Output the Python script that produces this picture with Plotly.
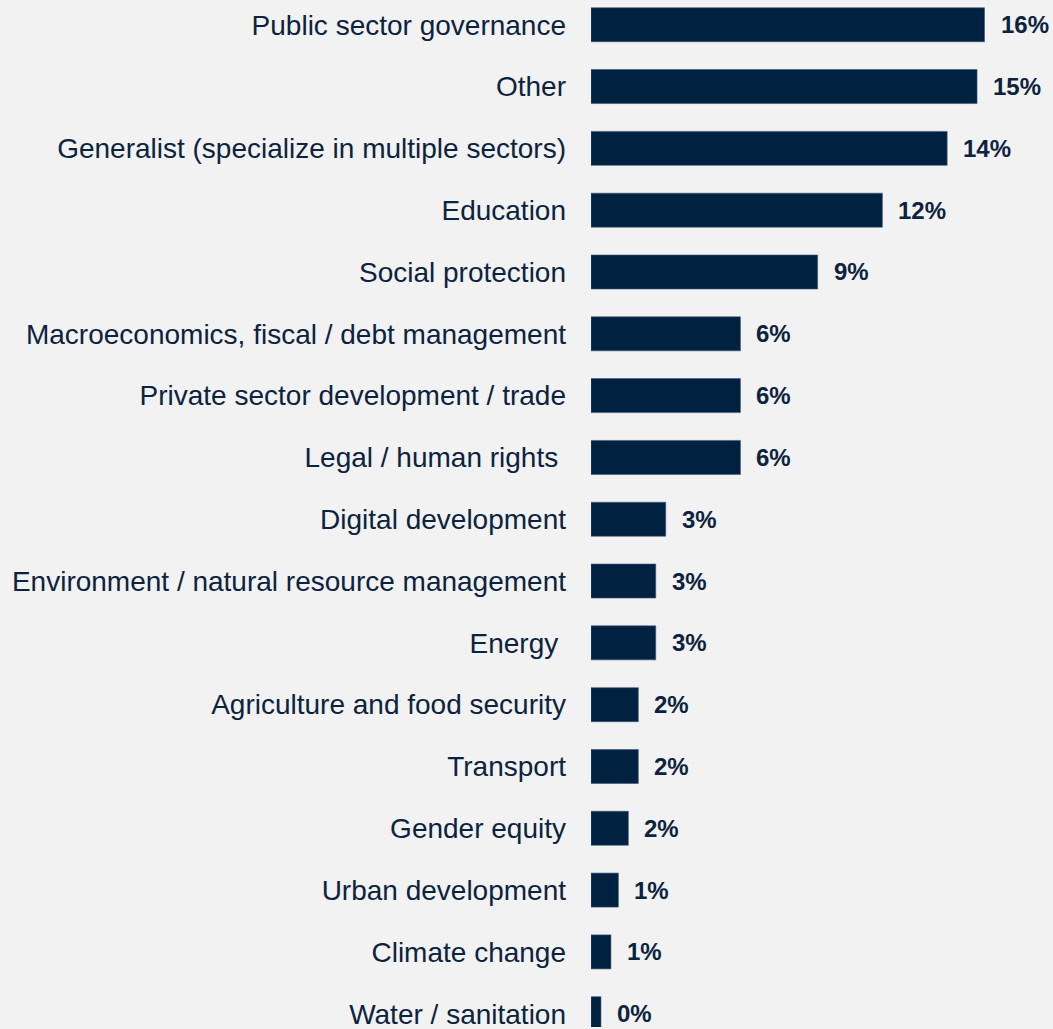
import plotly.graph_objects as go

BG_COLOR   = "#f2f2f2"
BAR_COLOR  = "#00213f"
TEXT_COLOR = "#0c2340"
FONT       = "Arial, Liberation Sans, sans-serif"

# Sectors, top to bottom
categories = [
    "Public sector governance",
    "Other",
    "Generalist (specialize in multiple sectors)",
    "Education",
    "Social protection",
    "Macroeconomics, fiscal / debt management",
    "Private sector development / trade",
    "Legal / human rights\u00a0",
    "Digital development",
    "Environment / natural resource management",
    "Energy\u00a0",
    "Agriculture and food security",
    "Transport",
    "Gender equity",
    "Urban development",
    "Climate change",
    "Water / sanitation",
]

# Share of respondents (%)
shares = [15.8, 15.5, 14.3, 11.7, 9.1, 6.0, 6.0, 6.0,
          3.0, 2.6, 2.6, 1.9, 1.9, 1.5, 1.1, 0.8, 0.4]

# Labels as printed next to the bars
share_labels = ["16%", "15%", "14%", "12%", "9%", "6%", "6%", "6%",
                "3%", "3%", "3%", "2%", "2%", "2%", "1%", "1%", "0%"]

fig = go.Figure(go.Bar(
    x=shares,
    y=categories,
    orientation="h",
    width=0.55,
    marker=dict(color=BAR_COLOR, line=dict(width=0.6, color="#3c5878")),
    hoverinfo="skip",
))

# value labels just right of each bar
for cat, val, lab in zip(categories, shares, share_labels):
    fig.add_annotation(
        x=val, y=cat, text=lab,
        xanchor="left", yanchor="middle",
        xshift=14, showarrow=False,
        font=dict(family=FONT, size=24, color=TEXT_COLOR, weight="bold"),
    )

fig.update_layout(
    width=1053,
    height=1029,
    margin=dict(l=591, r=0, t=0, b=0),
    plot_bgcolor=BG_COLOR,
    paper_bgcolor=BG_COLOR,
    showlegend=False,
    font=dict(family=FONT, color=TEXT_COLOR),
    xaxis=dict(
        range=[0, 18.55],
        visible=False,
        showgrid=False,
        zeroline=False,
    ),
    yaxis=dict(
        type="category",
        categoryorder="array",
        categoryarray=categories,
        range=[16.215, -0.4005],
        showgrid=False,
        zeroline=False,
        showline=False,
        ticks="",
        ticklabelstandoff=24,
        tickfont=dict(family=FONT, size=28, color=TEXT_COLOR),
    ),
)

# drop the default body margin so the figure sits flush in the window
fig.write_html(
    "out.html",
    config={"displayModeBar": False},
    post_script="document.body.style.margin='0';document.body.style.overflow='hidden';",
)
